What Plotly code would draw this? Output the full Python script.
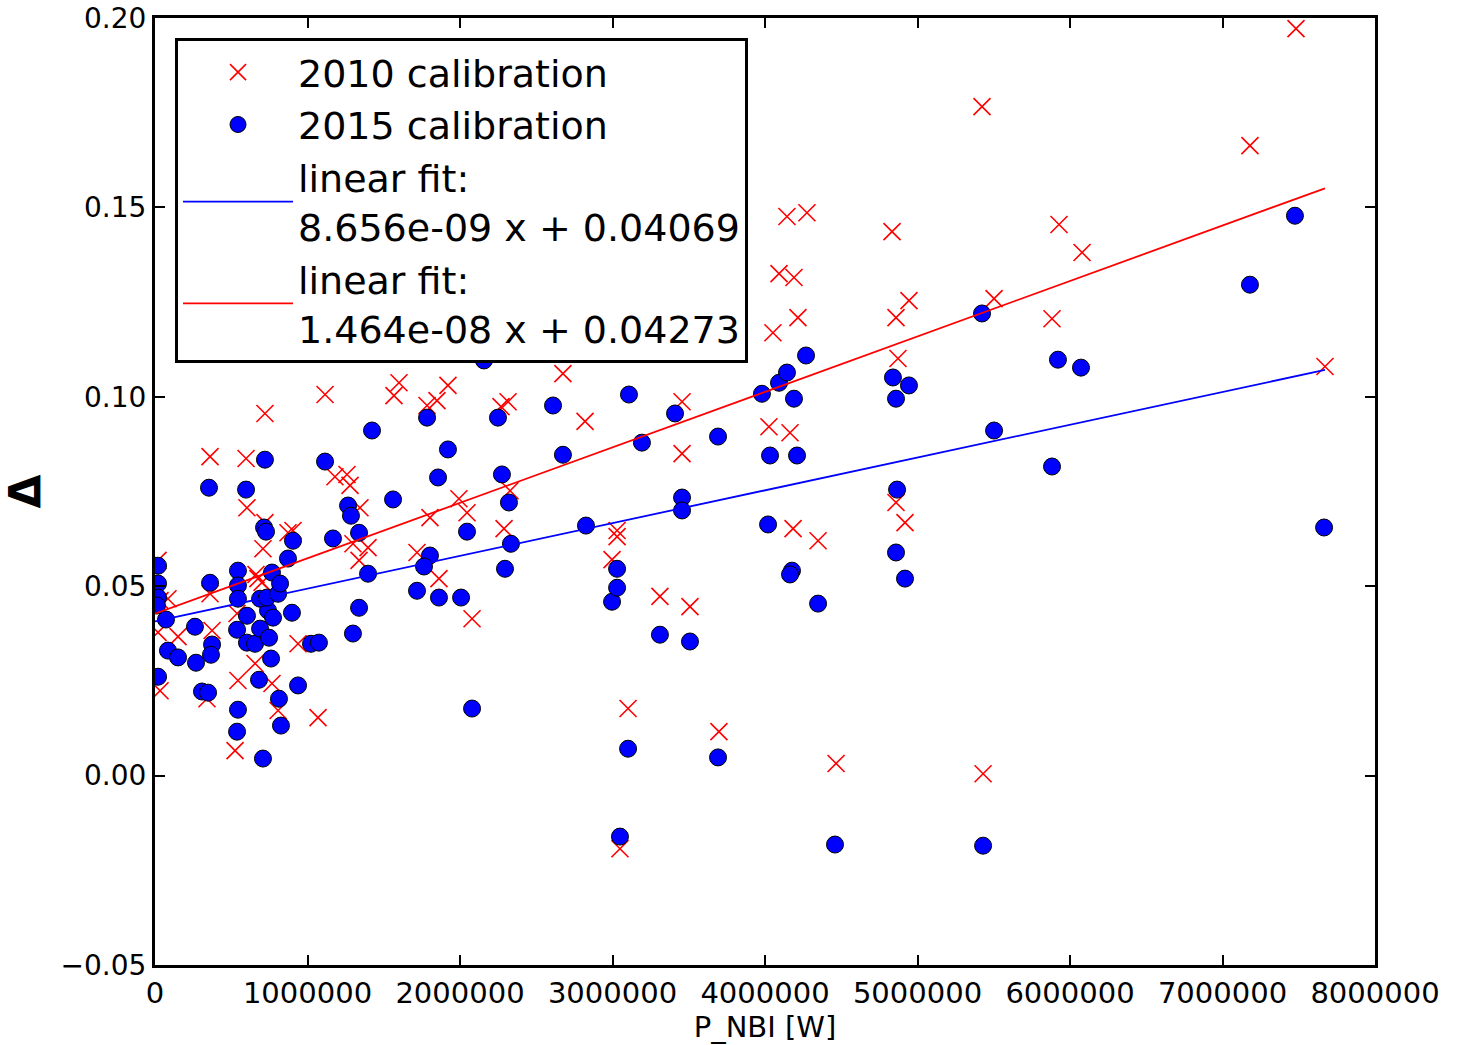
import numpy as np
import plotly.graph_objects as go

# 2010 calibration (red crosses)
x_2010 = [0.02e6, 0.033e6, 0.085e6, 0.02e6, 0.033e6, 0.151e6, 0.361e6, 0.374e6, 0.341e6, 0.361e6,
          0.597e6, 0.721e6, 0.603e6, 0.721e6, 0.708e6, 0.675e6, 0.702e6, 0.662e6, 0.538e6, 0.544e6,
          0.525e6, 0.656e6, 0.767e6, 0.807e6, 0.872e6, 0.905e6, 0.938e6, 1.069e6, 1.115e6, 1.180e6,
          1.259e6, 1.279e6, 1.344e6, 1.298e6, 1.397e6, 1.338e6, 1.567e6, 1.600e6, 1.784e6, 1.849e6,
          1.921e6, 1.803e6, 1.718e6, 1.862e6, 1.993e6, 2.046e6, 2.079e6, 2.269e6, 2.315e6, 2.328e6,
          2.289e6, 2.675e6, 2.820e6, 2.997e6, 3.030e6, 3.030e6, 3.049e6, 3.102e6, 3.200e6, 3.311e6,
          3.456e6, 3.456e6, 3.508e6, 3.698e6, 4.026e6, 4.164e6, 4.184e6, 4.348e6, 4.052e6, 4.092e6,
          4.190e6, 4.216e6, 4.144e6, 4.275e6, 4.466e6, 4.833e6, 4.944e6, 4.859e6, 4.872e6, 4.859e6,
          4.918e6, 5.423e6, 5.430e6, 5.502e6, 5.882e6, 5.928e6, 6.079e6, 7.180e6, 7.482e6, 7.672e6]
y_2010 = [0.0568, 0.0462, 0.0467, 0.0378, 0.0224, 0.0367, 0.0480, 0.0383, 0.0203, 0.0842,
          0.0837, 0.0956, 0.0707, 0.0668, 0.0599, 0.0520, 0.0510, 0.0531, 0.0428, 0.0251,
          0.0066, 0.0296, 0.0243, 0.0172, 0.0641, 0.0647, 0.0348, 0.0153, 0.1006, 0.0789,
          0.0795, 0.0766, 0.0707, 0.0612, 0.0602, 0.0568, 0.1003, 0.1037, 0.0977, 0.0990,
          0.1030, 0.0681, 0.0589, 0.0520, 0.0731, 0.0694, 0.0414, 0.0974, 0.0987, 0.0752,
          0.0652, 0.1061, 0.0935, 0.0570, 0.0647, 0.0631, -0.0193, 0.0177, 0.1122, 0.0473,
          0.0987, 0.0850, 0.0446, 0.0116, 0.0921, 0.0905, 0.0652, 0.0620, 0.1169, 0.1325,
          0.1315, 0.1209, 0.1476, 0.1486, 0.0032, 0.1436, 0.1254, 0.1209, 0.1101, 0.0721,
          0.0668, 0.1766, 0.0005, 0.1259, 0.1206, 0.1455, 0.1381, 0.1663, 0.1972, 0.1080]

# 2015 calibration (blue circles)
x_2015 = [0.02e6, 0.02e6, 0.02e6, 0.013e6, 0.072e6, 0.02e6, 0.085e6, 0.151e6, 0.262e6, 0.269e6,
          0.361e6, 0.374e6, 0.367e6, 0.308e6, 0.348e6, 0.354e6, 0.544e6, 0.544e6, 0.544e6, 0.538e6,
          0.603e6, 0.603e6, 0.656e6, 0.689e6, 0.748e6, 0.741e6, 0.689e6, 0.734e6, 0.774e6, 0.767e6,
          0.807e6, 0.820e6, 0.898e6, 0.761e6, 0.682e6, 0.544e6, 0.538e6, 0.708e6, 0.813e6, 0.826e6,
          0.938e6, 0.872e6, 0.905e6, 0.715e6, 0.728e6, 0.721e6, 0.597e6, 1.115e6, 1.167e6, 1.023e6,
          1.075e6, 1.423e6, 1.784e6, 2.249e6, 1.921e6, 1.856e6, 2.275e6, 1.561e6, 2.321e6, 1.266e6,
          1.285e6, 1.338e6, 2.046e6, 2.334e6, 1.803e6, 1.764e6, 1.397e6, 2.295e6, 1.718e6, 1.862e6,
          2.007e6, 1.338e6, 1.298e6, 2.079e6, 2.157e6, 2.459e6, 2.610e6, 2.675e6, 2.826e6, 2.997e6,
          3.030e6, 3.030e6, 3.049e6, 3.102e6, 3.108e6, 3.193e6, 3.311e6, 3.456e6, 3.456e6, 3.410e6,
          3.508e6, 3.692e6, 3.692e6, 3.980e6, 4.092e6, 4.144e6, 4.269e6, 4.190e6, 4.033e6, 4.210e6,
          4.020e6, 4.177e6, 4.164e6, 4.348e6, 4.459e6, 4.839e6, 4.944e6, 4.859e6, 4.866e6, 4.859e6,
          4.918e6, 5.423e6, 5.502e6, 5.430e6, 5.882e6, 5.921e6, 6.072e6, 7.180e6, 7.475e6, 7.666e6]
y_2015 = [0.0554, 0.0507, 0.0470, 0.0449, 0.0412, 0.0261, 0.0330, 0.0312, 0.0393, 0.0298,
          0.0509, 0.0346, 0.0319, 0.0222, 0.0219, 0.0760, 0.0541, 0.0502, 0.0467, 0.0385,
          0.0422, 0.0351, 0.0348, 0.0388, 0.0364, 0.0436, 0.0467, 0.0470, 0.0417, 0.0536,
          0.0480, 0.0507, 0.0430, 0.0309, 0.0253, 0.0174, 0.0116, 0.0045, 0.0203, 0.0132,
          0.0238, 0.0573, 0.0620, 0.0655, 0.0644, 0.0834, 0.0755, 0.0829, 0.0626, 0.0348,
          0.0351, 0.0911, 0.0945, 0.0945, 0.0861, 0.0787, 0.0795, 0.0729, 0.0721, 0.0713,
          0.0686, 0.0641, 0.0644, 0.0612, 0.0581, 0.0552, 0.0533, 0.0546, 0.0488, 0.0470,
          0.0470, 0.0443, 0.0375, 0.0177, 0.1096, 0.1127, 0.0977, 0.0847, 0.0660, 0.0459,
          0.0496, 0.0546, -0.0161, 0.0071, 0.1006, 0.0879, 0.0372, 0.0734, 0.0700, 0.0956,
          0.0354, 0.0895, 0.0048, 0.1008, 0.1037, 0.1064, 0.1109, 0.0995, 0.0845, 0.0845,
          0.0663, 0.0541, 0.0531, 0.0454, -0.0182, 0.1051, 0.1030, 0.0995, 0.0755, 0.0589,
          0.0520, 0.1220, 0.0911, -0.0185, 0.0816, 0.1098, 0.1077, 0.1296, 0.1478, 0.0655]

# linear fit coefficients (slope, intercept) as printed in the legend
fit_2015 = (8.656e-09, 0.04069)
fit_2010 = (1.464e-08, 0.04273)

x_ticks = [0, 1000000, 2000000, 3000000, 4000000, 5000000, 6000000, 7000000, 8000000]
y_ticks = [-0.05, 0.0, 0.05, 0.10, 0.15, 0.20]

FONT = "DejaVu Sans"

xfit = np.array([0.0, max(max(x_2010), max(x_2015))])

fig = go.Figure()
fig.add_trace(go.Scatter(
    x=x_2010, y=y_2010, mode="markers", name="2010 calibration",
    marker=dict(symbol="x-thin", size=17, color="red",
                line=dict(color="red", width=1.6))))
fig.add_trace(go.Scatter(
    x=x_2015, y=y_2015, mode="markers", name="2015 calibration",
    marker=dict(symbol="circle", size=17, color="#0000ff",
                line=dict(color="black", width=1))))
fig.add_trace(go.Scatter(
    x=xfit, y=fit_2015[0] * xfit + fit_2015[1], mode="lines",
    name="linear fit:<br>%.3e x + %.5f" % fit_2015,
    line=dict(color="#0000ff", width=1.8)))
fig.add_trace(go.Scatter(
    x=xfit, y=fit_2010[0] * xfit + fit_2010[1], mode="lines",
    name="linear fit:<br>%.3e x + %.5f" % fit_2010,
    line=dict(color="red", width=1.8)))

axis_common = dict(
    showline=True, linecolor="black", linewidth=3, mirror="allticks",
    ticks="inside", ticklen=10, tickwidth=1.5, tickcolor="black",
    showgrid=False, zeroline=False,
)

fig.update_layout(
    width=1458, height=1045,
    margin=dict(l=155, r=83, t=18, b=80),
    paper_bgcolor="white", plot_bgcolor="white",
    font=dict(family=FONT, color="black"),
    xaxis=dict(
        range=[0, 8000000], tickvals=x_ticks,
        ticktext=[str(v) for v in x_ticks],
        tickfont=dict(size=29, family=FONT),
        title=dict(text="P_NBI [W]", font=dict(size=29, family=FONT), standoff=6),
        automargin=False, **axis_common),
    yaxis=dict(
        range=[-0.05, 0.20], tickvals=y_ticks,
        ticktext=["\u22120.05", "0.00", "0.05", "0.10", "0.15", "0.20"],
        tickfont=dict(size=28, family=FONT),
        title=dict(text="<b>Δ</b>", font=dict(size=44, family=FONT), standoff=16),
        automargin=False, **axis_common),
    legend=dict(
        x=0.0164, y=0.979, xanchor="left", yanchor="top",
        bgcolor="white", bordercolor="black", borderwidth=3,
        font=dict(size=38, family=FONT, color="black"),
        itemwidth=110, tracegroupgap=0,
    ),
    showlegend=True,
)

fig.write_html("out.html")
